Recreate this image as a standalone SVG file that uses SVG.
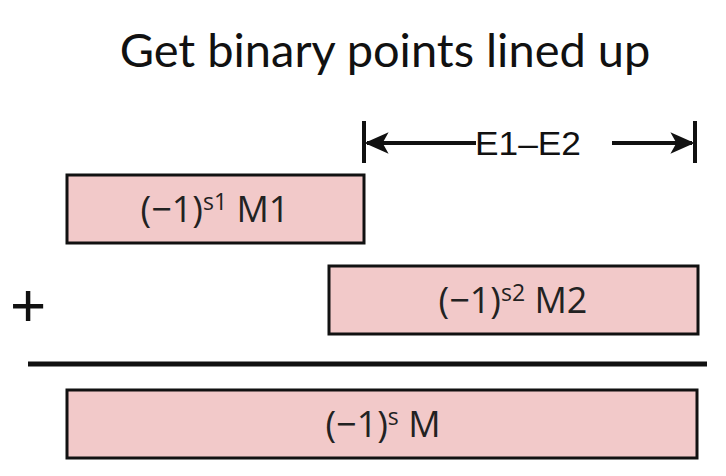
<svg xmlns="http://www.w3.org/2000/svg" width="726" height="476" viewBox="0 0 726 476">
<style>
.box{fill:#f2c9c9;stroke:#111;stroke-width:3}
.lbl{font-family:"Open Sans","Liberation Sans",sans-serif;font-size:36px;fill:#222;text-anchor:middle}
.sup{font-size:23px}
.dim{stroke:#111;stroke-width:4;fill:none}
</style>
<defs>
<marker id="ah" viewBox="0 0 10 10" refX="9" refY="5" markerWidth="6" markerHeight="6" orient="auto-start-reverse" markerUnits="strokeWidth">
<path d="M0,0.5 L10,5 L0,9.5 L2.5,5 z" fill="#111"/>
</marker>
</defs>
<rect width="726" height="476" fill="#fff"/>
<text x="385" y="67" font-family="Lato,'Open Sans',sans-serif" font-size="47" fill="#111" text-anchor="middle">Get binary points lined up</text>
<g id="connectors">
<line class="dim" x1="364" y1="121" x2="364" y2="163"/>
<line class="dim" x1="695" y1="121" x2="695" y2="163"/>
<line class="dim" x1="476" y1="143" x2="367" y2="143" marker-end="url(#ah)"/>
<line class="dim" x1="612" y1="143" x2="692" y2="143" marker-end="url(#ah)"/>
<line x1="28" y1="364" x2="707" y2="364" stroke="#111" stroke-width="5"/>
</g>
<text x="475" y="155" font-family="'Liberation Sans',Arial,sans-serif" font-size="34" fill="#111" textLength="106" lengthAdjust="spacingAndGlyphs">E1–E2</text>
<g id="plus"><text x="28" y="326" font-family="'Liberation Sans',sans-serif" font-size="62" fill="#111" text-anchor="middle">+</text></g>
<g id="m1">
<rect class="box" x="67" y="175" width="297" height="68"/>
<text class="lbl" x="215" y="222">(−1)<tspan class="sup" dy="-12">s1</tspan><tspan dy="12"> M1</tspan></text>
</g>
<g id="m2">
<rect class="box" x="329" y="266" width="369" height="68"/>
<text class="lbl" x="513" y="313">(−1)<tspan class="sup" dy="-12">s2</tspan><tspan dy="12"> M2</tspan></text>
</g>
<g id="m">
<rect class="box" x="67" y="390" width="630" height="68"/>
<text class="lbl" x="383" y="437">(−1)<tspan class="sup" dy="-12">s</tspan><tspan dy="12"> M</tspan></text>
</g>
</svg>
